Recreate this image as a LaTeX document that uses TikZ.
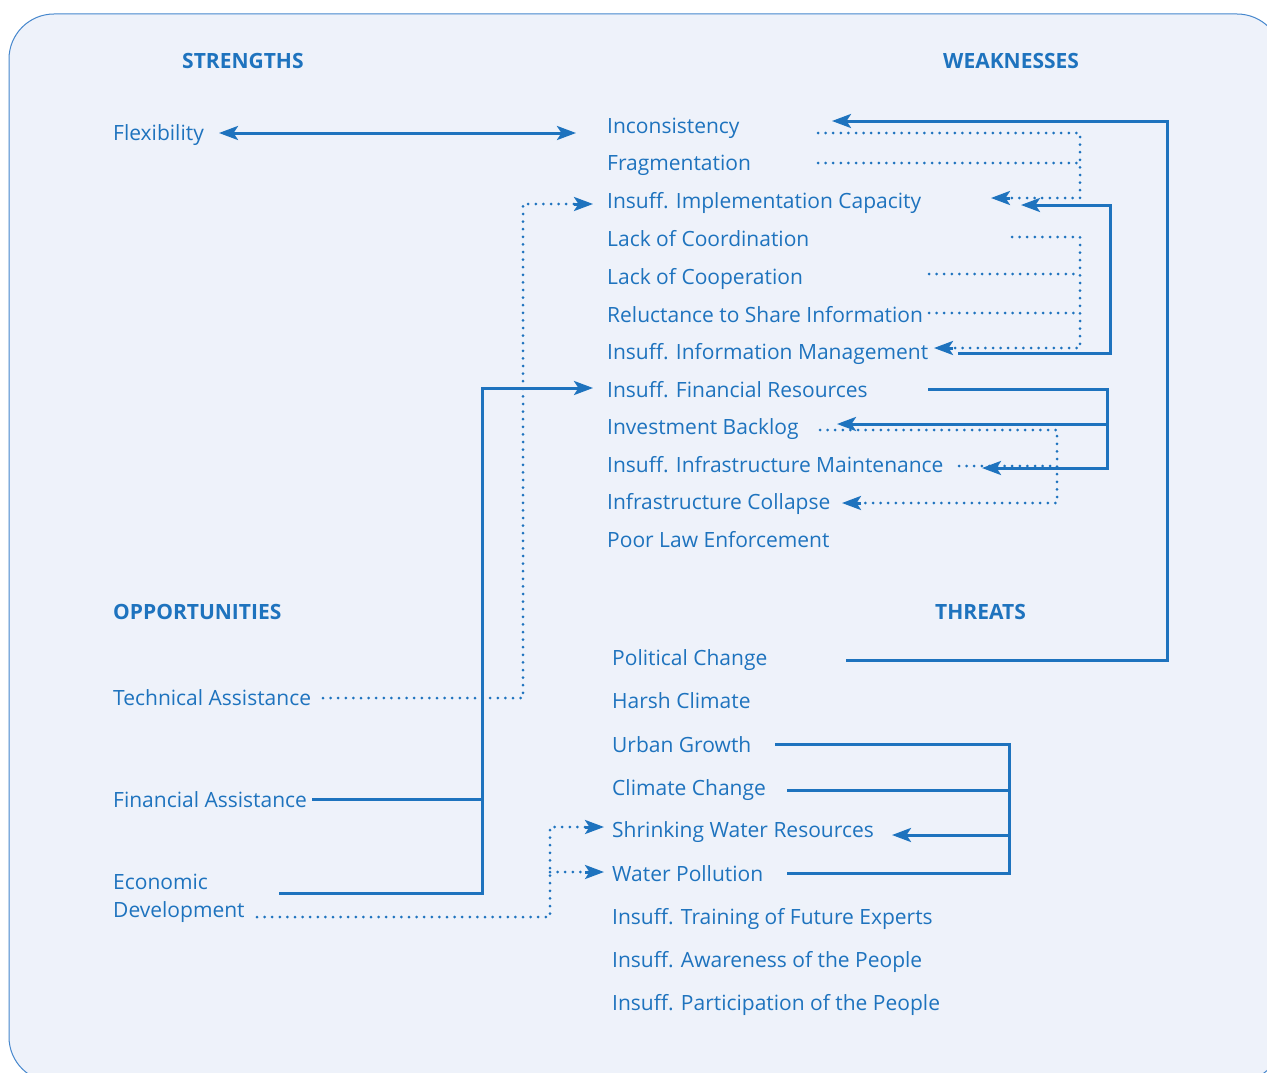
\documentclass[tikz,border=0pt]{standalone}
\usepackage{fontspec}
\setmainfont{Open Sans}
\usetikzlibrary{arrows.meta}
\definecolor{swotblue}{RGB}{30,115,190}
\definecolor{panel}{RGB}{238,242,250}
\definecolor{frame}{RGB}{70,135,205}
\tikzset{
  item/.style={anchor=base west, inner sep=0pt, text=swotblue,
    font=\fontsize{21}{28}\selectfont},
  head/.style={item, font=\fontsize{21}{28}\selectfont\bfseries},
  link/.style={draw=swotblue, line width=3pt},
  dots/.style={draw=swotblue, line width=3pt, line cap=round,
    dash pattern=on 0pt off 7.6pt},
  tip/.style={-{Stealth[length=19pt,width=14pt,inset=4.5pt]}},
  bothtips/.style={{Stealth[length=19pt,width=14pt,inset=4.5pt]}-{Stealth[length=19pt,width=14pt,inset=4.5pt]}},
}
% solid arrow head at the end of a dotted run: #1 = direction offset, #2 = tip point
\newcommand{\dottip}[2]{\draw[link, tip] (#2) ++(#1) -- (#2);}
\begin{document}
\begin{tikzpicture}[x=1pt,y=-1pt]
\useasboundingbox (0,0) rectangle (1267,1073);
\clip (0,0) rectangle (1267,1073);
\fill[white] (0,0) rectangle (1267,1073);
% panel
\draw[fill=panel, draw=frame, line width=1pt, rounded corners=45pt]
  (9,14) rectangle (1282,1082);

% headings
\node[head] (hS) at (182,69) {STRENGTHS};
\node[head] (hW) at (943,69) {WEAKNESSES};
\node[head] (hO) at (113,619) {OPPORTUNITIES};
\node[head] (hT) at (935,619) {THREATS};

% strengths and opportunities
\node[item] (flex) at (113,140) {Flexibility};
\node[item] (tech) at (113,705) {Technical Assistance};
\node[item] (fina) at (113,807) {Financial Assistance};
\node[item, align=left] (econ) at (113,917) {Economic\\Development};

% weaknesses
\node[item] (w1)  at (607,133) {Inconsistency};
\node[item] (w2)  at (607,170) {Fragmentation};
\node[item] (w3)  at (607,208) {Insuff. Implementation Capacity};
\node[item] (w4)  at (607,246) {Lack of Coordination};
\node[item] (w5)  at (607,284) {Lack of Cooperation};
\node[item] (w6)  at (607,322) {Reluctance to Share Information};
\node[item] (w7)  at (607,359) {Insuff. Information Management};
\node[item] (w8)  at (607,397) {Insuff. Financial Resources};
\node[item] (w9)  at (607,434) {Investment Backlog};
\node[item] (w10) at (607,472) {Insuff. Infrastructure Maintenance};
\node[item] (w11) at (607,509) {Infrastructure Collapse};
\node[item] (w12) at (607,547) {Poor Law Enforcement};

% threats
\node[item] (t1) at (612,665) {Political Change};
\node[item] (t2) at (612,708) {Harsh Climate};
\node[item] (t3) at (612,752) {Urban Growth};
\node[item] (t4) at (612,795) {Climate Change};
\node[item] (t5) at (612,837) {Shrinking Water Resources};
\node[item] (t6) at (612,881) {Water Pollution};
\node[item] (t7) at (612,924) {Insuff. Training of Future Experts};
\node[item] (t8) at (612,967) {Insuff. Awareness of the People};
\node[item] (t9) at (612,1010) {Insuff. Participation of the People};

% connector end points
\coordinate (flexIn) at (219,133);
\coordinate (w1In)   at (576,133);
\coordinate (t1Out)  at (846,660);
\coordinate (w1Back) at (832,121);
\coordinate (w1Out)  at (818,133);
\coordinate (w2Out)  at (818,163);
\coordinate (w3InA)  at (991,198);
\coordinate (w3InB)  at (1021,205);
\coordinate (w4Out)  at (1012,237);
\coordinate (w5Out)  at (929,274);
\coordinate (w6Out)  at (929,313);
\coordinate (w7In)   at (934,348);
\coordinate (w7Out)  at (958,353);
\coordinate (w8Out)  at (928,389);
\coordinate (w9In)   at (837,424);
\coordinate (w9Out)  at (820,430);
\coordinate (w10In)  at (982,468);
\coordinate (w10Out) at (959,466);
\coordinate (w11In)  at (842,503);
\coordinate (techOut) at (323,698);
\coordinate (w3Left) at (593,204);
\coordinate (finaOut) at (312,799);
\coordinate (econOut) at (279,893);
\coordinate (w8Left) at (593,388);
\coordinate (econDot) at (257,917);
\coordinate (t5Left) at (604,827);
\coordinate (t6Left) at (604,872);
\coordinate (t3Out)  at (775,744);
\coordinate (t4Out)  at (787,790);
\coordinate (t6Out)  at (787,873);
\coordinate (t5In)   at (892,835);

% Flexibility <-> Inconsistency
\draw[link, bothtips] (flexIn) -- (w1In);

% Political Change -> Inconsistency
\draw[link, tip] (t1Out) -- (1167,660) |- (w1Back);

% Inconsistency, Fragmentation -> Insuff. Implementation Capacity
\draw[dots] (w1Out) -- (1080,133) -- (1080,198) -- (1006,198);
\draw[dots] (w2Out) -- (1080,163);
\dottip{19,0}{w3InA}

% Coordination, Cooperation, Reluctance -> Information Management
\draw[dots] (w4Out) -- (1080,237) -- (1080,348) -- (949,348);
\draw[dots] (w5Out) -- (1080,274);
\draw[dots] (w6Out) -- (1080,313);
\dottip{19,0}{w7In}

% Information Management -> Implementation Capacity
\draw[link, tip] (w7Out) -- (1110,353) |- (w3InB);

% Financial Resources -> Backlog, Maintenance
\draw[link, tip] (w8Out) -- (1107,389) |- (w10In);
\draw[link, tip] (1107,424) -- (w9In);

% Backlog, Maintenance -> Collapse
\draw[dots] (w9Out) -- (1057,430) -- (1057,503) -- (857,503);
\draw[dots] (w10Out) -- (1057,466);
\dottip{19,0}{w11In}

% Technical Assistance -> Implementation Capacity
\draw[dots] (techOut) -- (523,698) -- (523,204) -- (578,204);
\dottip{-19,0}{w3Left}

% Financial Assistance, Economic Development -> Financial Resources
\draw[link] (finaOut) -- (482,799);
\draw[link, tip] (econOut) -- (482,893) |- (w8Left);

% Economic Development -> Shrinking Water Resources, Water Pollution
\draw[dots] (econDot) -- (550,917) -- (550,827) -- (589,827);
\draw[dots] (550,872) -- (589,872);
\dottip{-19,0}{t5Left}
\dottip{-19,0}{t6Left}

% Urban Growth, Climate Change, Water Pollution -> Shrinking Water Resources
\draw[link] (t3Out) -- (1009,744) -- (1009,873) -- (t6Out);
\draw[link] (t4Out) -- (1009,790);
\draw[link, tip] (1009,835) -- (t5In);
\end{tikzpicture}
\end{document}
